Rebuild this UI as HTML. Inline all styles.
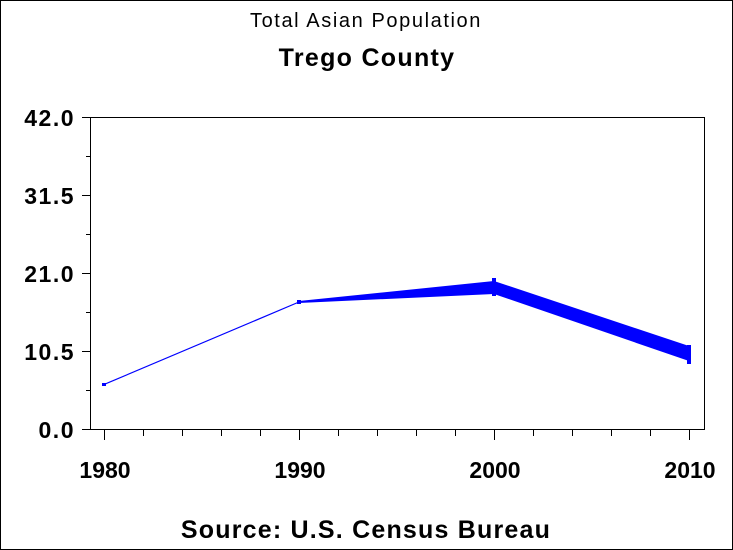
<!DOCTYPE html>
<html><head><meta charset="utf-8"><style>
html,body{margin:0;padding:0;background:#fff}
svg{display:block}
text{font-family:"Liberation Sans",sans-serif;fill:#000}
</style></head><body>
<svg width="733" height="550" viewBox="0 0 733 550" xmlns="http://www.w3.org/2000/svg">
<rect x="0.5" y="0.5" width="732" height="549" fill="#fff" stroke="#000"/>
<text x="366" y="27" font-size="20" letter-spacing="1.6" text-anchor="middle">Total Asian Population</text>
<text x="367" y="66" font-size="25" font-weight="bold" letter-spacing="1.3" text-anchor="middle">Trego County</text>
<rect x="90.5" y="117.5" width="614" height="312" fill="none" stroke="#000"/>
<g stroke="#000">
<line x1="82" y1="117.5" x2="90" y2="117.5"/><line x1="86" y1="156.5" x2="90" y2="156.5"/>
<line x1="82" y1="195.5" x2="90" y2="195.5"/><line x1="86" y1="234.5" x2="90" y2="234.5"/>
<line x1="82" y1="273.5" x2="90" y2="273.5"/><line x1="86" y1="312.5" x2="90" y2="312.5"/>
<line x1="82" y1="351.5" x2="90" y2="351.5"/><line x1="86" y1="390.5" x2="90" y2="390.5"/>
<line x1="82" y1="429.5" x2="90" y2="429.5"/>
<line x1="104.5" y1="430" x2="104.5" y2="440"/><line x1="143.5" y1="430" x2="143.5" y2="436"/>
<line x1="182.5" y1="430" x2="182.5" y2="436"/><line x1="221.5" y1="430" x2="221.5" y2="436"/>
<line x1="260.5" y1="430" x2="260.5" y2="436"/><line x1="299.5" y1="430" x2="299.5" y2="440"/>
<line x1="338.5" y1="430" x2="338.5" y2="436"/><line x1="377.5" y1="430" x2="377.5" y2="436"/>
<line x1="416.5" y1="430" x2="416.5" y2="436"/><line x1="455.5" y1="430" x2="455.5" y2="436"/>
<line x1="494.5" y1="430" x2="494.5" y2="440"/><line x1="533.5" y1="430" x2="533.5" y2="436"/>
<line x1="572.5" y1="430" x2="572.5" y2="436"/><line x1="611.5" y1="430" x2="611.5" y2="436"/>
<line x1="650.5" y1="430" x2="650.5" y2="436"/><line x1="689.5" y1="430" x2="689.5" y2="440"/>
</g>
<g font-size="23" font-weight="bold" letter-spacing="1.5" text-anchor="end">
<text x="75" y="126">42.0</text><text x="75" y="204">31.5</text>
<text x="75" y="282">21.0</text><text x="75" y="360">10.5</text>
<text x="75" y="438">0.0</text>
</g>
<g font-size="23" font-weight="bold" text-anchor="middle">
<text x="105" y="478">1980</text><text x="300" y="478">1990</text>
<text x="495" y="478">2000</text><text x="690" y="478">2010</text>
</g>
<text x="366" y="538" font-size="25" font-weight="bold" letter-spacing="1.2" text-anchor="middle">Source: U.S. Census Bureau</text>
<polyline points="104,384.5 299,302" fill="none" stroke="#00f" stroke-width="1.2"/>
<polygon points="299,301 494,281 689,346 689,361 494,294 299,303" fill="#00f"/>
<g fill="#00f">
<rect x="102" y="383" width="4" height="3"/><rect x="297" y="300" width="4" height="4"/>
<rect x="492" y="278" width="4" height="18"/><rect x="687" y="345" width="4" height="19"/>
</g>
</svg>
</body></html>
